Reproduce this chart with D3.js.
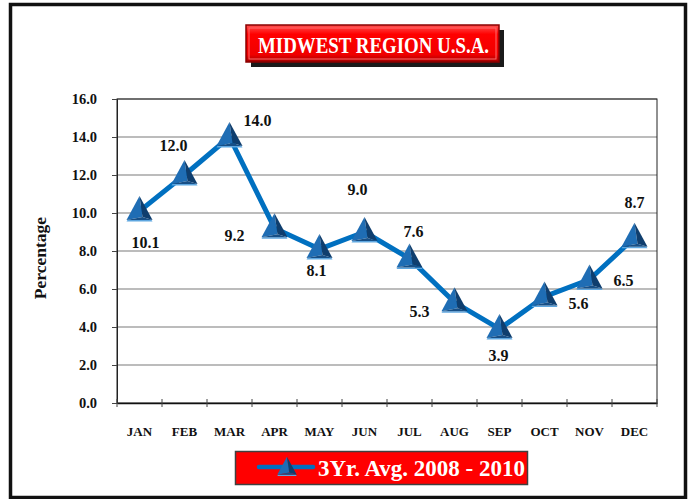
<!DOCTYPE html>
<html>
<head>
<meta charset="utf-8">
<script src="https://cdn.jsdelivr.net/npm/d3@7/dist/d3.min.js"></script>
<style>
  html, body { margin: 0; padding: 0; background: #fff; }
  svg { display: block; }
  text { font-family: "Liberation Serif", "DejaVu Serif", serif; font-weight: bold; }
</style>
</head>
<body>
<div id="chart"></div>
<script>
(function () {
  // data
  const MONTHS = ['JAN', 'FEB', 'MAR', 'APR', 'MAY', 'JUN', 'JUL', 'AUG', 'SEP', 'OCT', 'NOV', 'DEC'];
  const VALUES = [10.1, 12.0, 14.0, 9.2, 8.1, 9.0, 7.6, 5.3, 3.9, 5.6, 6.5, 8.7];
  const Y_TICKS = [0, 2, 4, 6, 8, 10, 12, 14, 16];
  const TITLE = 'MIDWEST REGION U.S.A.';
  const SERIES_NAME = '3Yr. Avg. 2008 - 2010';
  const Y_LABEL = 'Percentage';

  // where each value label sits relative to its marker
  const LABEL_OFFSETS = [
    [6, 31], [-11, -30], [28, -17], [-40, 7], [-3, 21], [-7, -43],
    [4, -27], [-35, 9], [-1, 26], [34, 7], [34, 1], [0, -35]
  ];

  const W = 697, H = 499;
  const plot = { left: 117, right: 657, top: 99, bottom: 403 };
  const BLUE = '#0070c0';

  const svg = d3.select('#chart').append('svg')
    .attr('width', W).attr('height', H);

  const defs = svg.append('defs');
  const g1 = defs.append('linearGradient').attr('id', 'redbar').attr('x1', 0).attr('y1', 0).attr('x2', 0).attr('y2', 1);
  g1.append('stop').attr('offset', '0%').attr('stop-color', '#ff5050');
  g1.append('stop').attr('offset', '25%').attr('stop-color', '#ff0000');
  g1.append('stop').attr('offset', '80%').attr('stop-color', '#f00000');
  g1.append('stop').attr('offset', '100%').attr('stop-color', '#a00000');

  // outer frame
  svg.append('rect')
    .attr('x', 10.5).attr('y', 4.5).attr('width', 675).attr('height', 493)
    .attr('fill', 'none').attr('stroke', '#111').attr('stroke-width', 3.5);

  const x = d3.scaleBand().domain(MONTHS).range([plot.left, plot.right]);
  const y = d3.scaleLinear().domain([0, 16]).range([plot.bottom, plot.top]);
  const cx = m => x(m) + x.bandwidth() / 2;

  // grid
  svg.append('g').selectAll('line')
    .data(Y_TICKS.filter(d => d > 0))
    .join('line')
    .attr('x1', plot.left).attr('x2', plot.right)
    .attr('y1', d => y(d)).attr('y2', d => y(d))
    .attr('stroke', '#a6a6a6').attr('stroke-width', 1.6);

  // plot border
  svg.append('rect')
    .attr('x', plot.left).attr('y', plot.top)
    .attr('width', plot.right - plot.left).attr('height', plot.bottom - plot.top)
    .attr('fill', 'none').attr('stroke', '#222').attr('stroke-width', 1);

  // y axis
  const yAxis = svg.append('g')
    .attr('transform', `translate(${plot.left},0)`)
    .call(d3.axisLeft(y).tickValues(Y_TICKS).tickFormat(d3.format('.1f')).tickSize(5).tickPadding(15));
  yAxis.select('.domain').attr('stroke', '#222');
  yAxis.selectAll('.tick line').attr('stroke', '#444');
  yAxis.selectAll('text').attr('font-size', 14.5).attr('fill', '#111')
    .style('font-family', '"Liberation Serif", serif').style('font-weight', 'bold');

  // x axis: labels from the axis, ticks at the band edges
  const xAxis = svg.append('g')
    .attr('transform', `translate(0,${plot.bottom})`)
    .call(d3.axisBottom(x).tickSize(0).tickPadding(24));
  xAxis.select('.domain').attr('stroke', '#111').attr('stroke-width', 1.5);
  xAxis.selectAll('text').attr('font-size', 13).attr('fill', '#111')
    .style('font-family', '"Liberation Serif", serif').style('font-weight', 'bold');

  const edges = MONTHS.map(m => x(m)).concat([plot.right]);
  svg.append('g').selectAll('line')
    .data(edges)
    .join('line')
    .attr('x1', d => d).attr('x2', d => d)
    .attr('y1', plot.bottom - 4).attr('y2', plot.bottom + 4)
    .attr('stroke', '#444').attr('stroke-width', 1);

  // y label
  svg.append('text')
    .attr('transform', 'translate(46,258) rotate(-90)')
    .attr('text-anchor', 'middle')
    .attr('font-size', 17.5)
    .attr('fill', '#111')
    .text(Y_LABEL);

  // series line
  const line = d3.line().x((d, i) => cx(MONTHS[i])).y(d => y(d));
  svg.append('path')
    .datum(VALUES)
    .attr('d', line)
    .attr('fill', 'none')
    .attr('stroke', BLUE)
    .attr('stroke-width', 5)
    .attr('stroke-linejoin', 'round');

  function triangle(sel, s) {
    // shaded pyramid marker, s = scale
    const ax = 0, ay = -15 * s, lx = -13 * s, rx = 13 * s, by = 9 * s;
    sel.append('path')
      .attr('d', `M${lx},${by + 1.5 * s}L${rx},${by + 1.5 * s}L${rx - 1},${by}L${lx + 1},${by}Z`)
      .attr('fill', '#5fa7e0');
    sel.append('path')
      .attr('d', `M${ax},${ay}L${lx},${by}L${3 * s},${by - 3 * s}Z`)
      .attr('fill', '#1f6db4');
    sel.append('path')
      .attr('d', `M${ax},${ay}L${3 * s},${by - 3 * s}L${rx},${by}Z`)
      .attr('fill', '#0f3e6e');
    sel.append('path')
      .attr('d', `M${lx},${by}L${3 * s},${by - 3 * s}L${rx},${by}Z`)
      .attr('fill', '#174f86');
  }

  svg.append('g').selectAll('g')
    .data(VALUES)
    .join('g')
    .attr('transform', (d, i) => `translate(${cx(MONTHS[i])},${y(d)})`)
    .each(function () { triangle(d3.select(this), 1); });

  // value labels
  svg.append('g').selectAll('text')
    .data(VALUES)
    .join('text')
    .attr('x', (d, i) => cx(MONTHS[i]) + LABEL_OFFSETS[i][0])
    .attr('y', (d, i) => y(d) + LABEL_OFFSETS[i][1])
    .attr('dy', '0.35em')
    .attr('text-anchor', 'middle')
    .attr('font-size', 16)
    .attr('fill', '#111')
    .text(d => d3.format('.1f')(d));

  // title box
  svg.append('rect')
    .attr('x', 251).attr('y', 30).attr('width', 253).attr('height', 37)
    .attr('fill', '#1a1a1a');
  svg.append('rect')
    .attr('x', 246).attr('y', 25).attr('width', 253).attr('height', 37)
    .attr('fill', 'url(#redbar)').attr('stroke', '#8a0000').attr('stroke-width', 1.5);
  svg.append('rect')
    .attr('x', 249).attr('y', 28).attr('width', 247).attr('height', 31)
    .attr('fill', 'none').attr('stroke', '#ff6a6a').attr('stroke-width', 1);
  svg.append('text')
    .attr('x', 258).attr('y', 53)
    .attr('font-size', 24)
    .attr('fill', '#fff')
    .attr('textLength', 231).attr('lengthAdjust', 'spacingAndGlyphs')
    .text(TITLE);

  // legend
  const lg = svg.append('g');
  lg.append('rect')
    .attr('x', 235.5).attr('y', 451.5).attr('width', 292).attr('height', 33)
    .attr('fill', '#ff0000').attr('stroke', '#404040').attr('stroke-width', 1.5);
  lg.append('line')
    .attr('x1', 259).attr('x2', 313).attr('y1', 467).attr('y2', 467)
    .attr('stroke', BLUE).attr('stroke-width', 4.5).attr('stroke-linecap', 'round');
  triangle(lg.append('g').attr('transform', 'translate(287,468)'), 0.75);
  lg.append('text')
    .attr('x', 318).attr('y', 476)
    .attr('font-size', 22.5)
    .attr('fill', '#fff')
    .attr('textLength', 207).attr('lengthAdjust', 'spacingAndGlyphs')
    .text(SERIES_NAME);
})();
</script>
</body>
</html>
